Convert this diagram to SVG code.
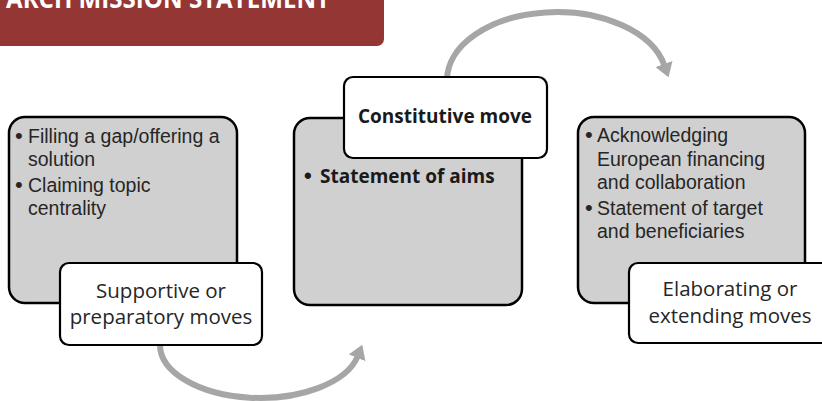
<svg xmlns="http://www.w3.org/2000/svg" width="822" height="401" viewBox="0 0 822 401">
<style>
.bg{fill:#d0d0d0;stroke:#000;stroke-width:2.5}
.lb{fill:#fff;stroke:#000;stroke-width:2.2}
.t{font-family:"Liberation Sans",Arial,sans-serif;font-size:19.5px;fill:#262626}
.tb{font-family:"Open Sans","Liberation Sans",sans-serif;font-size:19px;font-weight:bold;fill:#1a1a1a}
.bu{font-family:"Liberation Sans",sans-serif;font-size:22px}
.lt{font-family:"Open Sans","Liberation Sans",sans-serif;font-size:20.5px;fill:#262626;text-anchor:middle}
.arc{fill:none;stroke:#a6a6a6;stroke-width:6}
.title{font-family:"Open Sans","Liberation Sans",sans-serif;font-size:27px;font-weight:bold;fill:#fff}
</style>
<defs>
<marker id="ah" markerUnits="userSpaceOnUse" markerWidth="18" markerHeight="18" refX="2" refY="9" orient="auto" viewBox="0 0 18 18">
<path d="M0,0 L14,9 L0,18 z" fill="#a6a6a6"/>
</marker>
</defs>
<g id="title">
<rect x="-12" y="-12" width="396" height="58" rx="7" fill="#943634"/>
<text class="title" x="6" y="8" textLength="324" lengthAdjust="spacingAndGlyphs">ARCH MISSION STATEMENT</text>
</g>
<g id="connectors">
<path class="arc" d="M160,345 A100,53 0 0 0 357.8,356" marker-end="url(#ah)"/>
<path class="arc" d="M447,80 A110,68 0 0 1 664.6,65.9" marker-end="url(#ah)"/>
</g>
<g id="node-supportive">
<rect class="bg" x="9" y="117" width="228" height="186" rx="16"/>
<text class="t" y="143"><tspan class="bu" x="15">•</tspan><tspan x="28">Filling a gap/offering a</tspan></text>
<text class="t" x="28" y="166">solution</text>
<text class="t" y="192"><tspan class="bu" x="15">•</tspan><tspan x="28">Claiming topic</tspan></text>
<text class="t" x="28" y="215">centrality</text>
<rect class="lb" x="60" y="263" width="202" height="82" rx="9"/>
<text class="lt" x="161" y="298">Supportive or</text>
<text class="lt" x="161" y="324">preparatory moves</text>
</g>
<g id="node-constitutive">
<rect class="bg" x="294" y="118" width="228" height="187" rx="16"/>
<text class="tb" y="183"><tspan class="bu" x="304" font-size="24px">•</tspan><tspan x="320">Statement of aims</tspan></text>
<rect class="lb" x="344" y="77" width="203" height="81" rx="9"/>
<text class="tb" x="445" y="123" text-anchor="middle">Constitutive move</text>
</g>
<g id="node-elaborating">
<rect class="bg" x="578" y="117" width="227" height="186" rx="16"/>
<text class="t" y="142"><tspan class="bu" x="585">•</tspan><tspan x="597">Acknowledging</tspan></text>
<text class="t" x="597" y="166">European financing</text>
<text class="t" x="597" y="189">and collaboration</text>
<text class="t" y="215"><tspan class="bu" x="585">•</tspan><tspan x="597">Statement of target</tspan></text>
<text class="t" x="597" y="238">and beneficiaries</text>
<rect class="lb" x="629" y="263" width="203" height="80" rx="9"/>
<text class="lt" x="730" y="296">Elaborating or</text>
<text class="lt" x="730" y="323">extending moves</text>
</g>
</svg>
